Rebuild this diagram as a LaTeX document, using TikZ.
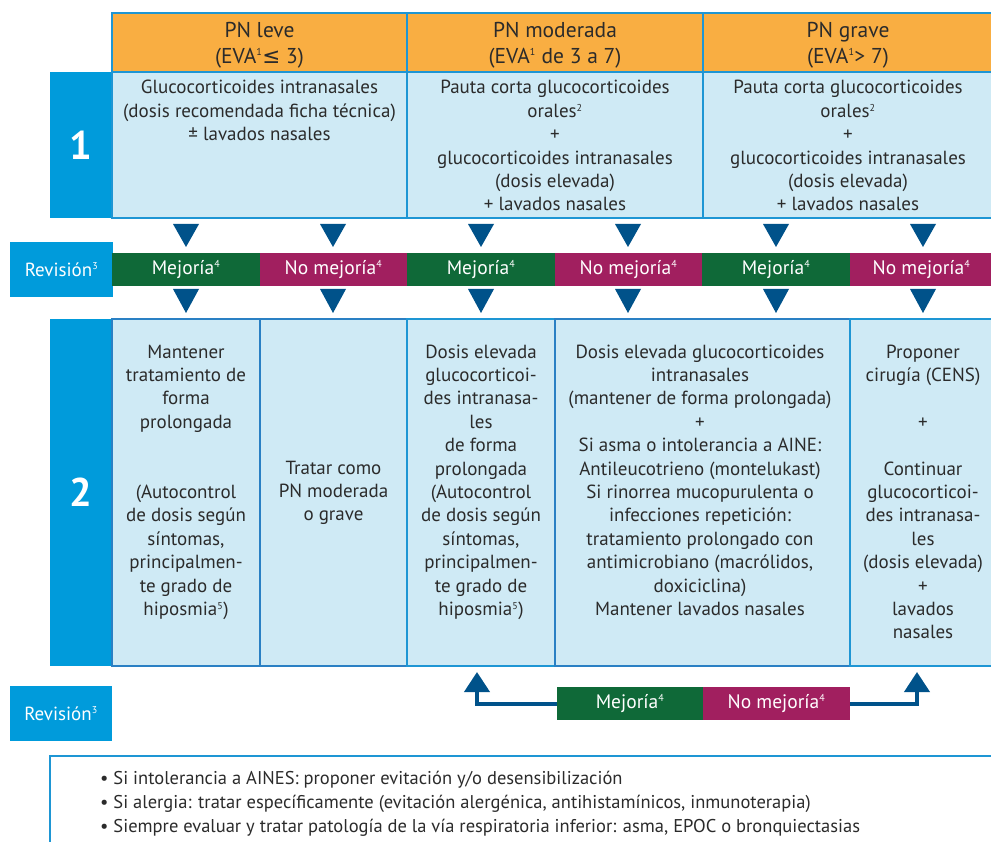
\documentclass[tikz,border=0pt]{standalone}
\usepackage{fontspec}
\setmainfont{PT Sans}
\newfontfamily\symf{DejaVu Sans}
\usetikzlibrary{arrows.meta}
\definecolor{hdr}{HTML}{F9AE42}
\definecolor{lb}{HTML}{CFEAF5}
\definecolor{cy}{HTML}{009BDB}
\definecolor{bd}{HTML}{1E96D4}
\definecolor{bd2}{HTML}{2A80C4}
\definecolor{grn}{HTML}{0F6938}
\definecolor{mag}{HTML}{A11F5F}
\definecolor{tri}{HTML}{00528A}
\definecolor{txt}{HTML}{2B2B2B}
\newcommand{\sus}[1]{\textsuperscript{\fontsize{10}{10}\selectfont #1}}
\tikzset{
  box/.style={rectangle, anchor=north west, inner sep=0, outer sep=0},
  hbox/.style={box, fill=hdr, draw=bd, line width=2pt},
  lbox/.style={box, fill=lb, draw=bd, line width=2pt},
  lbox2/.style={box, fill=lb, draw=bd2, line width=2pt},
  cbox/.style={box, fill=cy},
  gbar/.style={box, fill=grn, text=white, font=\fontsize{19.5}{22}\selectfont},
  mbar/.style={box, fill=mag, text=white, font=\fontsize{19.5}{22}\selectfont},
  tx/.style={anchor=base, align=center, font=\fontsize{19}{23.4}\selectfont, text=txt, inner sep=0},
  htx/.style={anchor=base, align=center, font=\fontsize{21.5}{25.5}\selectfont, text=txt, inner sep=0},
  big/.style={text=white, font=\fontsize{40}{40}\selectfont\bfseries},
  wtx/.style={text=white, font=\fontsize{19}{22}\selectfont},
  arr/.style={tri, line width=4pt, -{Triangle[width=25pt,length=20pt]}},
}
\begin{document}
\begin{tikzpicture}[x=1pt,y=-1pt]
\useasboundingbox (0,0) rectangle (991,842);
% header
\node[hbox, minimum width=295, minimum height=59] (h1) at (112,13) {};
\node[hbox, minimum width=296, minimum height=59] (h2) at (407,13) {};
\node[hbox, minimum width=292, minimum height=59] (h3) at (703,13) {};
% anchor=base is the last line's baseline
\node[htx] (th1) at (259.5,63.5) {PN leve\\(EVA\sus{1}{\symf ≤} 3)};
\node[htx] (th2) at (555,63.5) {PN moderada\\(EVA\sus{1} de 3 a 7)};
\node[htx] (th3) at (848,63.5) {PN grave\\(EVA\sus{1}> 7)};
% row 1
\node[cbox, minimum width=62, minimum height=146] (one) at (50,72) {};
\node[big] (n1) at (one.center) {1};
\node[lbox, minimum width=295, minimum height=146] (r1a) at (112,72) {};
\node[lbox, minimum width=296, minimum height=146] (r1b) at (407,72) {};
\node[lbox, minimum width=292, minimum height=146] (r1c) at (703,72) {};
\node[tx] (t1a) at (259.5,140.8) {Glucocorticoides intranasales\\(dosis recomendada ficha técnica)\\± lavados nasales};
\node[tx] (t1b) at (555,211) {Pauta corta glucocorticoides\\orales\sus{2}\\+\\glucocorticoides intranasales\\(dosis elevada)\\+ lavados nasales};
\node[tx] (t1c) at (848,211) {Pauta corta glucocorticoides\\orales\sus{2}\\+\\glucocorticoides intranasales\\(dosis elevada)\\+ lavados nasales};
% revision row
\node[cbox, minimum width=103, minimum height=55, wtx] (rev1) at (10,242) {Revisión\sus{3}};
\node[gbar, minimum width=148, minimum height=33] (b1) at (112,253) {Mejoría\sus{4}};
\node[mbar, minimum width=147, minimum height=33] (b2) at (260,253) {No mejoría\sus{4}};
\node[gbar, minimum width=148, minimum height=33] (b3) at (407,253) {Mejoría\sus{4}};
\node[mbar, minimum width=147, minimum height=33] (b4) at (555,253) {No mejoría\sus{4}};
\node[gbar, minimum width=148, minimum height=33] (b5) at (702,253) {Mejoría\sus{4}};
\node[mbar, minimum width=143, minimum height=33] (b6) at (850,253) {No mejoría\sus{4}};
\foreach \x in {186,333,481,628,776,923}{
  \fill[tri] (\x-13,224) -- (\x+13,224) -- (\x,247) -- cycle;
  \fill[tri] (\x-13,289) -- (\x+13,289) -- (\x,313) -- cycle;
}
% row 2
\node[cbox, minimum width=62, minimum height=347] (two) at (50,319) {};
\node[big] (n2) at (two.center) {2};
\node[lbox2, minimum width=148, minimum height=347] (c1) at (112,319) {};
\node[lbox2, minimum width=147, minimum height=347] (c2) at (260,319) {};
\node[lbox, minimum width=148, minimum height=347] (c3) at (407,319) {};
\node[lbox2, minimum width=295, minimum height=347] (c4) at (555,319) {};
\node[lbox, minimum width=145, minimum height=347] (c5) at (850,319) {};
\node[tx] (t2a) at (186,615.4) {Mantener\\tratamiento de\\forma\\prolongada\\~\\~\\(Autocontrol\\de dosis según\\síntomas,\\principalmen-\\te grado de\\hiposmia\sus{5})};
\node[tx] (t2b) at (333.5,520.8) {Tratar como\\PN moderada\\o grave};
\node[tx] (t2c) at (481,615.4) {Dosis elevada\\glucocorticoi-\\des intranasa-\\les\\de forma\\prolongada\\(Autocontrol\\de dosis según\\síntomas,\\principalmen-\\te grado de\\hiposmia\sus{5})};
\node[tx] (t2d) at (700,615.4) {Dosis elevada glucocorticoides\\intranasales\\(mantener de forma prolongada)\\+\\Si asma o intolerancia a AINE:\\Antileucotrieno (montelukast)\\Si rinorrea mucopurulenta o\\infecciones repetición:\\tratamiento prolongado con\\antimicrobiano (macrólidos,\\doxiciclina)\\Mantener lavados nasales};
\node[tx] (t2e) at (923,638.8) {Proponer\\cirugía (CENS)\\~\\+\\~\\Continuar\\glucocorticoi-\\des intranasa-\\les\\(dosis elevada)\\+\\lavados\\nasales};
% bottom revision
\node[cbox, minimum width=102, minimum height=55, wtx] (rev2) at (10,686) {Revisión\sus{3}};
\node[gbar, minimum width=146, minimum height=33] (bm) at (557,687) {Mejoría\sus{4}};
\node[mbar, minimum width=147, minimum height=33] (bn) at (703,687) {No mejoría\sus{4}};
\coordinate (upL) at (477,672);
\coordinate (upR) at (917,672);
\draw[arr] (bm.west) -| (upL);
\draw[arr] (bn.east) -| (upR);
% notes
\draw[bd, line width=2pt] (50,845) -- (50,756) -- (995,756);
\node[anchor=base west, align=left, inner sep=0, text=txt, font=\fontsize{18.5}{24}\selectfont] (notes) at (100,832)
 {• Si intolerancia a AINES: proponer evitación y/o desensibilización\\
  • Si alergia: tratar específicamente (evitación alergénica, antihistamínicos, inmunoterapia)\\
  • Siempre evaluar y tratar patología de la vía respiratoria inferior: asma, EPOC o bronquiectasias};
\end{tikzpicture}
\end{document}
